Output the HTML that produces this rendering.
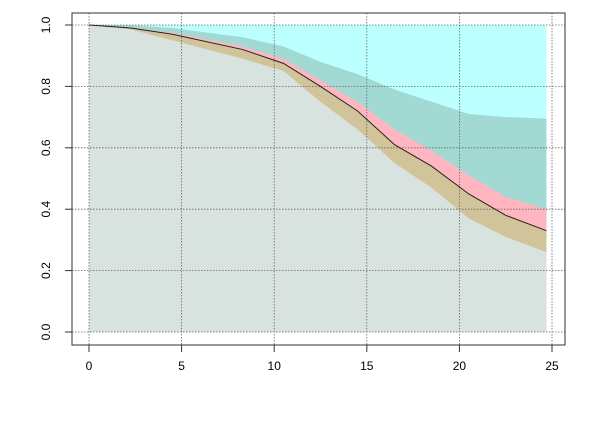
<!DOCTYPE html>
<html><head><meta charset="utf-8">
<style>body{margin:0;background:#fff}svg{display:block}text{font-family:"Liberation Sans",sans-serif;font-size:12px;fill:#000}</style>
</head><body>
<svg id="chart" width="600" height="427"></svg>
<script>
const times=[0,2.3,4.5,8.3,10.5,12.5,14.5,16.5,18.5,20.5,22.5,24.7];
const median=[1.0,0.99,0.97,0.92,0.875,0.80,0.72,0.61,0.54,0.45,0.38,0.33];
const lower=[1.0,0.985,0.95,0.89,0.85,0.75,0.66,0.55,0.47,0.37,0.31,0.26];
const pinkUpper=[1.0,0.99,0.975,0.93,0.89,0.82,0.75,0.66,0.59,0.51,0.44,0.40];
const tealUpper=[1.0,1.0,0.99,0.96,0.93,0.88,0.84,0.79,0.75,0.71,0.70,0.695];
const xTicks=[0,5,10,15,20,25];
const yTicks=[0,0.2,0.4,0.6,0.8,1.0];
const yTickLabels=["0.0","0.2","0.4","0.6","0.8","1.0"];
const NS="http://www.w3.org/2000/svg";
const svg=document.getElementById('chart');
const X=v=>89+v*(552-89)/25, Y=v=>332-v*307;
function el(t,a,p){const e=document.createElementNS(NS,t);for(const k in a)e.setAttribute(k,a[k]);(p||svg).appendChild(e);return e;}
function area(vals,fill,name){
  let d=`M${X(times[0])},${Y(0)}`;
  times.forEach((t,i)=>d+=` L${X(t)},${Y(vals[i])}`);
  d+=` L${X(times[times.length-1])},${Y(0)} Z`;
  const p=el('path',{d,fill});
  
  
}
area(times.map(()=>1),'#bbffff','cyan-band');
area(tealUpper,'#a2d9d2','teal-band');
area(pinkUpper,'#ffb6c1','pink-band');
area(median,'#d2c49a','tan-band');
area(lower,'#d8e3df','lower-fill');
// grid
xTicks.forEach(v=>{const l=el('line',{x1:X(v),x2:X(v),y1:13,y2:345,stroke:'#666','stroke-dasharray':'1.5,1.5','stroke-width':0.8});
});
yTicks.forEach(v=>{const l=el('line',{x1:72,x2:565,y1:Y(v),y2:Y(v),stroke:'#666','stroke-dasharray':'1.5,1.5','stroke-width':0.8});
});
// median line
const ml=el('polyline',{points:times.map((t,i)=>X(t)+','+Y(median[i])).join(' '),fill:'none',stroke:'#222','stroke-width':1});

// box
const box=el('rect',{x:72,y:13,width:493,height:332,fill:'none',stroke:'#333','stroke-width':1});

// axes ticks & labels
xTicks.forEach(v=>{el('line',{x1:X(v),x2:X(v),y1:345,y2:352,stroke:'#333'});
const t=el('text',{x:X(v),y:370,'text-anchor':'middle'});t.textContent=v;
});
yTicks.forEach((v,i)=>{el('line',{x1:65,x2:72,y1:Y(v),y2:Y(v),stroke:'#333'});
const t=el('text',{x:50,y:Y(v),'text-anchor':'middle',transform:`rotate(-90 50 ${Y(v)})`});t.textContent=yTickLabels[i];
});
</script>
</body></html>
